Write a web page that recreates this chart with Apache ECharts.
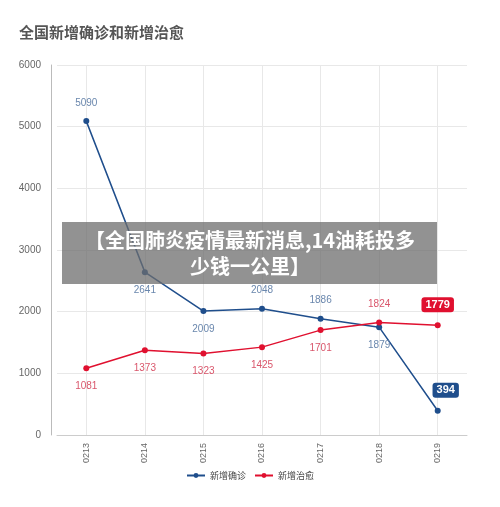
<!DOCTYPE html>
<html><head><meta charset="utf-8">
<script src="https://cdn.jsdelivr.net/npm/echarts@6/dist/echarts.min.js"></script>
<style>html,body{margin:0;background:#fff}#c{width:500px;height:507px}</style>
</head><body><div id="c"></div>
<script>
const categories = ['0213','0214','0215','0216','0217','0218','0219'];
const confirmed = [5090,2641,2009,2048,1886,1749,394];
const confirmedLabels = ['5090','2641','2009','2048','1886','1879','394'];
const cured = [1081,1373,1323,1425,1701,1824,1779];
const blue='#1f4e8c', red='#e0102f';
const chart = echarts.init(document.getElementById('c'));
chart.setOption({
  animation:false,
  title:{text:'全国新增确诊和新增治愈',left:14,top:20,textStyle:{fontSize:15,fontWeight:'bold',color:'#555',fontFamily:'Noto Sans CJK SC'}},
  grid:{left:57,right:33,top:65,bottom:72},
  legend:{bottom:22,left:'center',itemWidth:18,itemHeight:6,textStyle:{fontSize:9,color:'#444',fontFamily:'Noto Sans CJK SC'},
    data:['新增确诊','新增治愈']},
  xAxis:{type:'category',data:categories,boundaryGap:true,
    axisLine:{show:true,lineStyle:{color:'#ccc'}},axisTick:{show:false},
    axisLabel:{rotate:90,color:'#666',fontSize:9,interval:0,margin:8},splitLine:{show:false}},
  yAxis:{type:'value',min:0,max:6000,interval:1000,offset:6,
    axisLine:{show:true,lineStyle:{color:'#bbb'}},axisTick:{show:false},
    axisLabel:{color:'#666',fontSize:10,margin:10,formatter:v=>String(v)},splitLine:{lineStyle:{color:'#e8e8e8'}}},
  series:[
    {name:'grid',type:'line',data:[],z:0,silent:true,
      markLine:{silent:true,symbol:'none',z:0,label:{show:false},lineStyle:{color:'#e8e8e8',type:'solid',width:1},
        data:categories.map(c=>({xAxis:c}))}},
    {name:'新增确诊',type:'line',z:3,data:confirmed.map((v,i)=>{
        const o={value:v};
        if(i===6){o.label={show:true,position:'top',distance:10,offset:[8,0],formatter:confirmedLabels[i],color:'#fff',backgroundColor:blue,borderRadius:3,padding:[2,4],fontWeight:'bold',fontSize:11};}
        else o.label={show:true,position:(i===0||i===3||i===4)?'top':'bottom',formatter:confirmedLabels[i]};
        return o;}),
      symbol:'circle',symbolSize:6,color:blue,lineStyle:{width:1.5,color:blue},
      label:{color:'#6a87ad',fontSize:10,distance:10}},
    {name:'新增治愈',type:'line',z:3,data:cured.map((v,i)=>{
        const o={value:v,label:{show:true,position:(i===5)?'top':'bottom'}};
        if(i===6) o.label={show:true,position:'top',distance:10,color:'#fff',backgroundColor:red,borderRadius:3,padding:[2,4],fontWeight:'bold',fontSize:11};
        return o;}),
      symbol:'circle',symbolSize:6,color:red,lineStyle:{width:1.5,color:red},
      label:{color:'#d9566b',fontSize:10,distance:10}}
  ],
  graphic:[
    {type:'rect',shape:{x:62,y:222,width:375,height:62},style:{fill:'rgba(110,110,110,0.75)'},z:100},
    {type:'text',x:250,y:227,z:101,style:{text:'【全国肺炎疫情最新消息,14油耗投多\n少钱一公里】',fill:'#fff',font:'bold 20px "Noto Sans CJK SC"',align:'center',lineHeight:26}}
  ]
});
</script></body></html>
